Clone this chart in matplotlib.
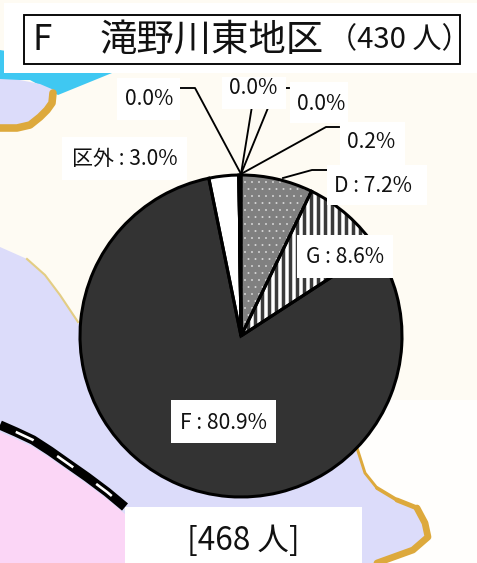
import matplotlib
matplotlib.use("Agg")
import matplotlib.pyplot as plt
from matplotlib.patches import Polygon, Rectangle

W, H, DPI = 477, 563, 84
FONT = ['Noto Sans CJK JP', 'DejaVu Sans']
plt.rcParams['font.family'] = FONT

# data
categories = ['D', 'G', 'F', '区外', 'a', 'b', 'c', 'e']
values = [7.2, 8.6, 80.9, 3.0, 0.0, 0.0, 0.0, 0.2]
title_code = 'F'
title_name = '滝野川東地区'
title_count = '（430 人）'
total_label = '[468 人]'
label_f = 'F : 80.9%'
label_g = 'G : 8.6%'
label_d = 'D : 7.2%'
label_out = '区外 : 3.0%'
label_small = '0.2%'
label_zero = '0.0%'

fig = plt.figure(figsize=(W / DPI, H / DPI), dpi=DPI, facecolor='#FEFBF3')
bg = fig.add_axes([0, 0, 1, 1])
bg.set_xlim(0, W)
bg.set_ylim(H, 0)
bg.axis('off')

# map background
LAV, PINK, CYAN, GOLD = '#DCDCFA', '#FBD6F6', '#3FC8F2', '#DDA93C'
bg.add_patch(Polygon([(300, 400), (477, 400), (477, 563), (300, 563)], fc='#FFFEFC', ec='none', zorder=0))
bg.add_patch(Polygon([(0, 50), (0, 80), (30, 80), (58, 95), (112, 73), (60, 60)], fc=CYAN, ec='none', zorder=1))
top_blob = [(0, 79), (20, 80), (40, 84), (54, 90), (50, 102), (40, 118), (28, 126), (0, 128)]
bg.add_patch(Polygon(top_blob, fc=LAV, ec='none', zorder=1))
bg.plot([53, 52, 47, 40, 30, 17, 0], [93, 103, 110, 117, 125, 128, 128], color=GOLD, lw=6.5, zorder=2,
        solid_capstyle='round', solid_joinstyle='round')
land = [(0, 247), (27, 259), (45, 275), (60, 295), (78, 322), (120, 400), (355, 445), (365, 473), (377, 488),
        (397, 500), (417, 508), (425, 523), (428, 537), (413, 550), (377, 563), (0, 563)]
bg.add_patch(Polygon(land, fc=LAV, ec='none', zorder=1))
bg.plot([27, 45, 60, 78], [259, 275, 295, 322], color='#E3CD84', lw=1.8, zorder=2)
rail_x = [0, 16, 33, 50, 67, 87, 107, 125]
rail_y = [425, 432, 440, 451, 463, 477, 492, 507]
pink = [(x, y + 7) for x, y in zip(rail_x, rail_y)] + [(130, 563), (0, 563)]
bg.add_patch(Polygon(pink, fc=PINK, ec='none', zorder=2))
gold_parts = [
    ([(357, 448), (365, 473), (377, 488)], 2.5),
    ([(377, 488), (397, 500)], 3.2),
    ([(397, 500), (417, 508)], 4.2),
    ([(417, 508), (425, 523), (428, 537), (413, 550), (377, 563)], 5.8),
]
for pts, lw in gold_parts:
    bg.plot(*zip(*pts), color=GOLD, lw=lw, zorder=3, solid_joinstyle='round', solid_capstyle='round')
bg.plot(rail_x, rail_y, color='black', lw=8, zorder=3, solid_capstyle='butt', solid_joinstyle='round')
bg.plot(rail_x, rail_y, color='white', lw=2.2, zorder=4, linestyle=(12, (7.7, 11)))

# pie
cx, cy, r = 241, 336, 161
pie_ax = fig.add_axes([(cx - r) / W, 1 - (cy + r) / H, 2 * r / W, 2 * r / H])
pie_ax.patch.set_alpha(0)
fills = ['#808080', 'white', '#333333', 'white', 'white', 'white', 'white', 'black']
w1, _ = pie_ax.pie(values, startangle=90, counterclock=False, radius=1, colors=fills,
                   wedgeprops=dict(linewidth=0))
w1[0].set_hatch('..')
w1[0].set_edgecolor('#E8E8E8')
w1[0].set_linewidth(0)
w1[1].set_hatch('||')
w1[1].set_edgecolor('#3A3A3A')
w1[1].set_linewidth(0)
if hasattr(w1[1], 'set_hatch_linewidth'):
    w1[0].set_hatch_linewidth(0.3)
    w1[1].set_hatch_linewidth(3.0)
w2, _ = pie_ax.pie(values, startangle=90, counterclock=False, radius=1,
                   colors=['none'] * len(values),
                   wedgeprops=dict(linewidth=2.6, edgecolor='black', fill=False))
pie_ax.set_xlim(-1, 1)
pie_ax.set_ylim(-1, 1)

# overlay for leaders and labels
fg = fig.add_axes([0, 0, 1, 1])
fg.set_xlim(0, W)
fg.set_ylim(H, 0)
fg.axis('off')
fg.patch.set_alpha(0)

leaders = [
    [(241, 174), (195, 88), (180, 88)],
    [(241, 174), (253, 100)],
    [(241, 174), (270, 103), (284, 88), (289, 88)],
    [(241, 174), (326, 127), (339, 127)],
    [(283, 178), (312, 170), (327, 170)],
]
for seg in leaders:
    fg.plot(*zip(*seg), color='black', lw=1.6, zorder=2)

boxes = [
    (117, 78, 63, 42), (222, 77, 64, 32), (290, 82, 58, 41), (340, 122, 65, 43),
    (62, 137, 125, 43), (327, 165, 100, 40), (297, 235, 96, 43), (171, 400, 105, 43),
    (125, 507, 237, 56),
]
for x, y, w, h in boxes:
    fg.add_patch(Rectangle((x, y), w, h, fc='white', ec='none', zorder=3))

texts = [
    (149, 99, label_zero), (253, 88, label_zero), (321, 104, label_zero), (371, 142, label_small),
    (125, 159, label_out), (373, 186, label_d), (345, 257, label_g), (224, 423, label_f),
]
for x, y, s in texts:
    fg.text(x, y, s, ha='center', va='center', fontsize=18, color='#111111', zorder=4, family=FONT)
fg.text(243, 541, total_label, ha='center', va='center', fontsize=27, color='#111111', zorder=4, family=FONT)

# title
fg.add_patch(Rectangle((4, 3), 473, 70, fc='white', ec='none', zorder=3))
fg.add_patch(Rectangle((23.5, 15), 436.5, 48.5, fc='white', ec='black', lw=1.6, zorder=4))
fg.text(33, 40, title_code, ha='left', va='center', fontsize=30, color='#111111', zorder=5, family=FONT)
fg.text(100, 40, title_name, ha='left', va='center', fontsize=32, color='#111111', zorder=5, family=FONT)
fg.text(471, 40, title_count, ha='right', va='center', fontsize=25, color='#111111', zorder=5, family=FONT)

fig.savefig('out.png', dpi=DPI, facecolor=fig.get_facecolor())
